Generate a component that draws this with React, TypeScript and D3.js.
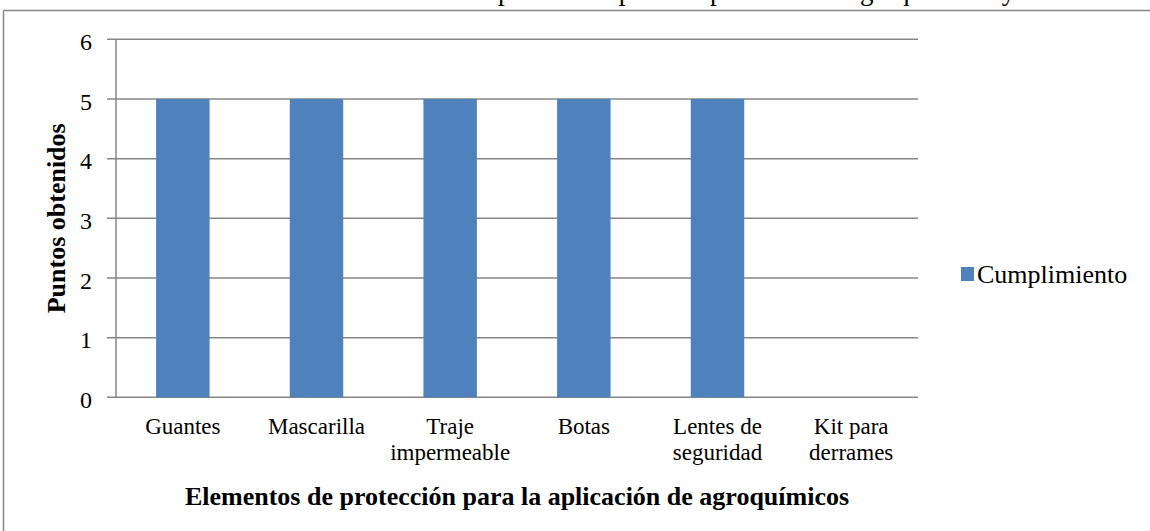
import React from "react";
import * as d3 from "d3";

const categories: string[][] = [
  ["Guantes"],
  ["Mascarilla"],
  ["Traje", "impermeable"],
  ["Botas"],
  ["Lentes de", "seguridad"],
  ["Kit para", "derrames"],
];
const values: number[] = [5, 5, 5, 5, 5, 0];
const yTicks: number[] = [0, 1, 2, 3, 4, 5, 6];
const seriesName = "Cumplimiento";
const xTitle = "Elementos de protección para la aplicación de agroquímicos";
const yTitle = "Puntos obtenidos";
const topTitle = "Elementos de protección para la aplicación de agroquímicos y su uso";

const W = 1150;
const H = 531;
const plot = { left: 116, right: 918, top: 39.3, bottom: 397.3 };
const serif = "'Times New Roman', 'Liberation Serif', serif";
const gray = "#868686";
const barColor = "#4F81BD";

export default function App() {
  const keys = categories.map((c) => c.join(" "));
  const x = d3
    .scaleBand<string>()
    .domain(keys)
    .range([plot.left, plot.right])
    .paddingInner(0.6)
    .paddingOuter(0.3);
  const y = d3.scaleLinear().domain([0, 6]).range([plot.bottom, plot.top]);

  return (
    <svg
      width={W}
      height={H}
      style={{ position: "absolute", left: 0, top: 0, background: "#fff", fontFamily: serif }}
    >
      <rect x={0} y={0} width={W} height={H} fill="#fff" />
      {/* title above the frame, cut off as in the source */}
      <text x={345} y={-0.5} fontSize={27} fill="#000">
        {topTitle}
      </text>
      {/* frame */}
      <line x1={3.5} y1={10.5} x2={W} y2={10.5} stroke={gray} strokeWidth={1.5} />
      <line x1={3.5} y1={10.5} x2={3.5} y2={H} stroke={gray} strokeWidth={1.5} />

      {/* gridlines */}
      {yTicks.map((t) => (
        <line
          key={"g" + t}
          x1={plot.left - 9}
          x2={plot.right}
          y1={y(t)}
          y2={y(t)}
          stroke={gray}
          strokeWidth={1.5}
        />
      ))}
      {/* y axis */}
      <line x1={plot.left} x2={plot.left} y1={plot.top} y2={plot.bottom} stroke={gray} strokeWidth={1.5} />
      {yTicks.map((t) => (
        <text
          key={"t" + t}
          x={92}
          y={y(t) + 10.8}
          textAnchor="end"
          fontSize={24}
          fill="#000"
        >
          {t}
        </text>
      ))}

      {/* bars */}
      {values.map((v, i) =>
        v > 0 ? (
          <rect
            key={"b" + i}
            x={x(keys[i])!}
            y={y(v)}
            width={x.bandwidth()}
            height={y(0) - y(v)}
            fill={barColor}
          />
        ) : null
      )}

      {/* category labels */}
      {categories.map((lines, i) => {
        const cx = x(keys[i])! + x.bandwidth() / 2;
        return (
          <text key={"c" + i} x={cx} textAnchor="middle" fontSize={23} fill="#000">
            {lines.map((l, j) => (
              <tspan key={j} x={cx} y={434.3 + j * 26}>
                {l}
              </tspan>
            ))}
          </text>
        );
      })}

      {/* axis titles */}
      <text
        x={(plot.left + plot.right) / 2}
        y={505}
        textAnchor="middle"
        fontSize={26}
        fontWeight="bold"
        fill="#000"
      >
        {xTitle}
      </text>
      <text
        transform={`translate(65, ${(plot.top + plot.bottom) / 2}) rotate(-90)`}
        textAnchor="middle"
        fontSize={26}
        fontWeight="bold"
        fill="#000"
      >
        {yTitle}
      </text>

      {/* legend */}
      <rect x={961} y={267} width={13} height={14} fill={barColor} />
      <text x={977} y={283.3} fontSize={26} fill="#000">
        {seriesName}
      </text>
    </svg>
  );
}
